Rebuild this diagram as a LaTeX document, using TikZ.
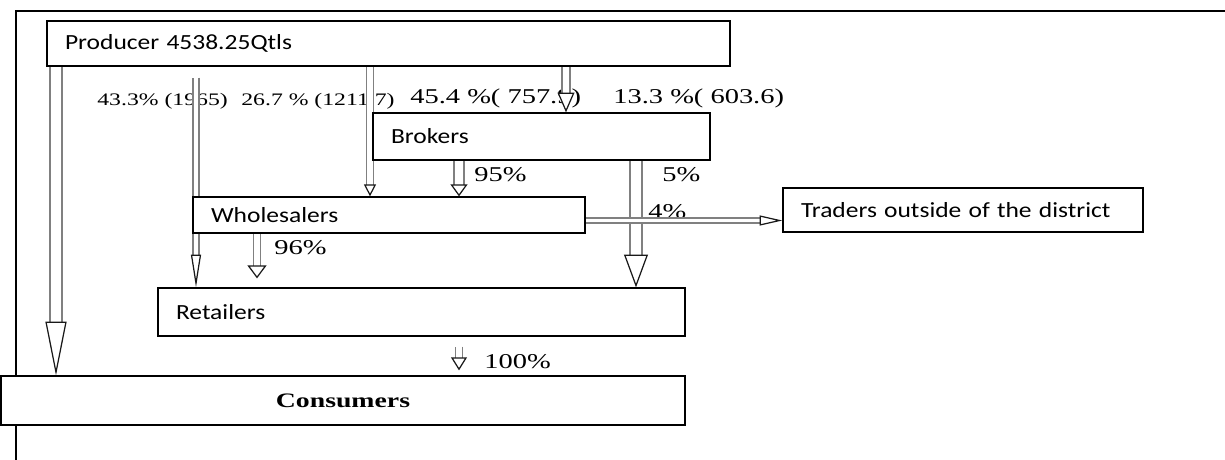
\documentclass[tikz,border=0pt]{standalone}
\usepackage{fontspec}
\setmainfont{Carlito}[FakeStretch=1.18]
\newfontfamily\lblfont{Liberation Serif}[FakeStretch=1.35]
\usepackage{tikz}
\usetikzlibrary{arrows.meta,backgrounds}

\begin{document}
\begin{tikzpicture}[x=0.02cm, y=-0.02cm,
    box/.style={draw=black, fill=white, line width=0.7pt, inner xsep=0.36cm, inner ysep=0pt, align=left, font=\fontsize{12.3}{14}\selectfont},
    lbl/.style={anchor=west, inner sep=0pt, font=\lblfont\fontsize{12}{14}\selectfont},
    small/.style={anchor=west, inner sep=0pt, font=\lblfont\fontsize{10}{12}\selectfont},
    flow/.style n args={3}{draw=black!50, line width=1pt, double=white, double distance=#1, -{Triangle[color=black!90, fill=white, line width=0.7pt, length=#2, width=#3]}}
]
\useasboundingbox (0,0) rectangle (1225,460);
\draw[line width=0.9pt] (16,460) -- (16,11) -- (1225,11);

\node[box, text width=12.94cm, minimum height=0.9cm] (producer) at (388.5,43.5) {Producer 4538.25Qtls};
\node[box, text width=6.02cm, minimum height=0.94cm] (brokers) at (541.5,136.5) {Brokers};
\node[box, text width=7.12cm, minimum height=0.72cm] (wholesalers) at (389,215) {Wholesalers};
\node[box, text width=6.48cm, minimum height=0.88cm] (traders) at (963,210) {Traders outside of the district};
\node[box, text width=9.82cm, minimum height=0.96cm] (retailers) at (421.5,312) {Retailers};
\node[box, text width=12.96cm, minimum height=0.98cm, align=center, font=\lblfont\bfseries\fontsize{11.7}{14}\selectfont] (consumers) at (343,400.5) {Consumers};

\begin{pgfonlayer}{background}
\node[small] (l433) at (97,101) {43.3\% (1965)};
\node[small] (l267) at (241,101) {26.7 \% (1211.7)};
\node[lbl] (l454) at (410,98) {45.4 \%( 757.9)};
\node[lbl] (l133) at (613,98) {13.3 \%( 603.6)};
\node[lbl] (l95) at (474,175) {95\%};
\node[lbl] (l5) at (662,175) {5\%};
\node[lbl] (l4) at (648,212) {4\%};
\node[lbl] (l96) at (274,248) {96\%};
\node[lbl] (l100) at (484,362) {100\%};

\draw[flow={5.4pt}{30.6pt}{12pt}] (56,0 |- producer.south) -- (56,0 |- consumers.north);
\draw[flow={2pt}{18.7pt}{5.7pt}, shorten <=0.22cm] (196,0 |- producer.south) -- (196,0 |- retailers.north);
\draw[flow={3.1pt}{6.8pt}{6.8pt}] (370,0 |- producer.south) -- (370,0 |- wholesalers.north);
\draw[flow={3.7pt}{11.3pt}{9.6pt}] (566,0 |- producer.south) -- (566,0 |- brokers.north);
\draw[flow={4.4pt}{6.8pt}{9.6pt}] (459,0 |- brokers.south) -- (459,0 |- wholesalers.north);
\draw[flow={5.9pt}{18.7pt}{13.6pt}] (636,0 |- brokers.south) -- (636,0 |- retailers.north);
\draw[flow={1.8pt}{13pt}{5.7pt}] ([yshift=-0.11cm]wholesalers.east) -- ([yshift=-0.11cm]wholesalers.east -| traders.west);
\draw[flow={3.1pt}{7.4pt}{10.8pt}, shorten >=0.18cm] (257,0 |- wholesalers.south) -- (257,0 |- retailers.north);
\draw[flow={3.1pt}{7.4pt}{9pt}, shorten <=0.2cm, shorten >=0.1cm] (459,0 |- retailers.south) -- (459,0 |- consumers.north);
\end{pgfonlayer}
\end{tikzpicture}
\end{document}
